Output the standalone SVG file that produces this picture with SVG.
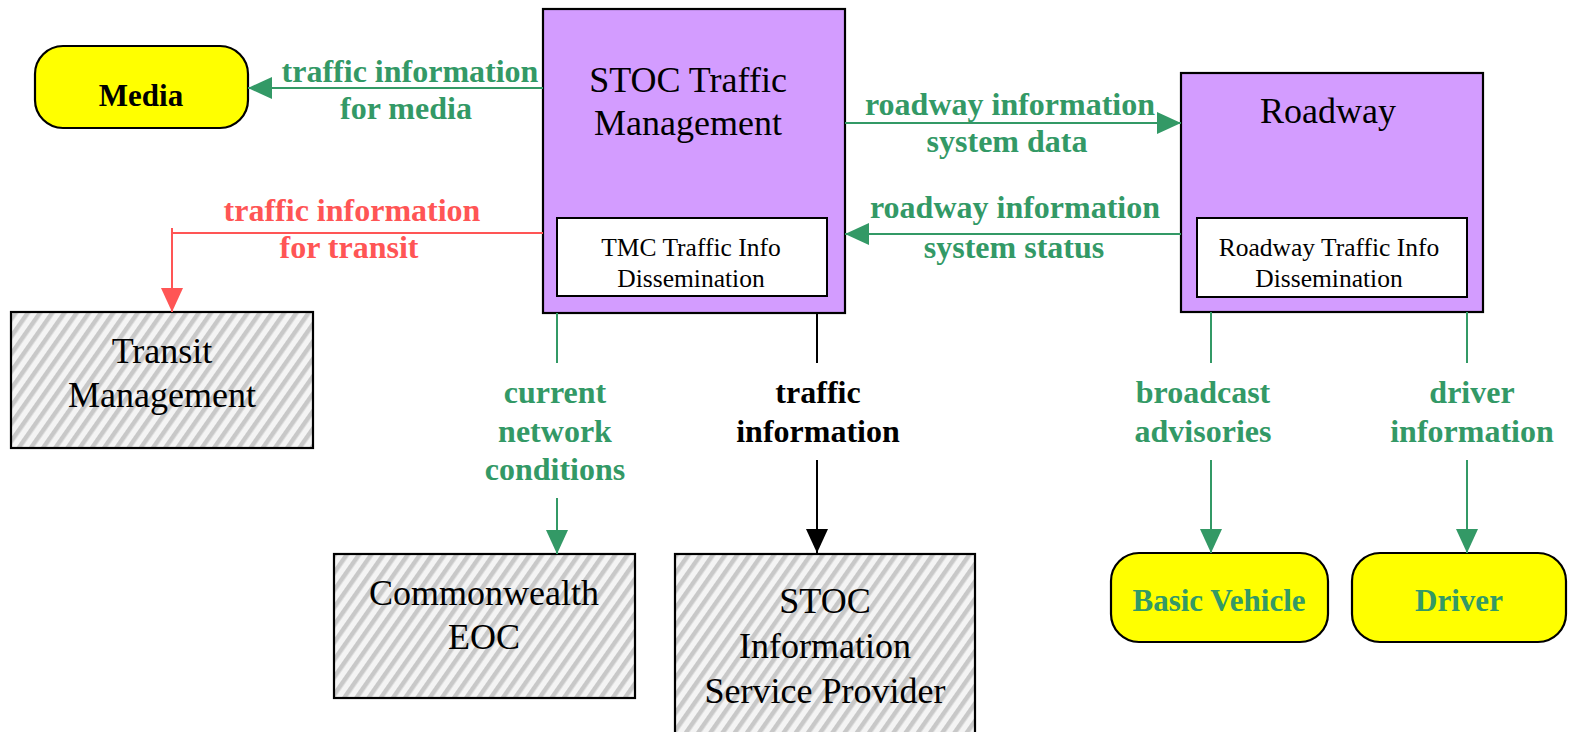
<svg xmlns="http://www.w3.org/2000/svg" width="1570" height="732" viewBox="0 0 1570 732">
<style>
text{font-family:"Liberation Serif","Times New Roman",serif;text-anchor:middle}
.title{font-size:36px;fill:#000}
.inner{font-size:25.5px;fill:#000}
.lbl{font-size:32px;font-weight:bold}
.ext{font-size:31px;font-weight:bold}
.g{fill:#339966}
.r{fill:#FF5555}
.k{fill:#000}
.box{stroke:#000;stroke-width:2.2}
.proc{fill:#D39CFF}
.sub{fill:#fff;stroke:#000;stroke-width:2}
.hatch{fill:url(#hatch)}
.term{fill:#FFFF00;stroke:#000;stroke-width:2.2}
.cg{stroke:#339966;stroke-width:2;fill:none}
.cr{stroke:#FF5555;stroke-width:2;fill:none}
.ck{stroke:#000;stroke-width:2;fill:none}
</style>
<defs>
<pattern id="hatch" patternUnits="userSpaceOnUse" width="10" height="10" patternTransform="rotate(35)">
<rect width="10" height="10" fill="#F4F4F4"/>
<rect width="4.5" height="10" fill="#C8C8C8"/>
</pattern>
<marker id="ag" viewBox="0 0 24 22" refX="24" refY="11" markerWidth="24" markerHeight="22" markerUnits="userSpaceOnUse" orient="auto"><path d="M0,0L24,11L0,22z" fill="#339966"/></marker>
<marker id="ar" viewBox="0 0 24 22" refX="24" refY="11" markerWidth="24" markerHeight="22" markerUnits="userSpaceOnUse" orient="auto"><path d="M0,0L24,11L0,22z" fill="#FF5555"/></marker>
<marker id="ak" viewBox="0 0 24 22" refX="24" refY="11" markerWidth="24" markerHeight="22" markerUnits="userSpaceOnUse" orient="auto"><path d="M0,0L24,11L0,22z" fill="#000"/></marker>
</defs>

<g id="stoc-tm">
<rect class="box proc" x="543" y="9" width="302" height="304"/>
<text class="title" x="688" y="92">STOC Traffic</text>
<text class="title" x="688" y="135">Management</text>
<rect class="sub" x="557" y="218" width="270" height="78"/>
<text class="inner" x="691" y="256">TMC Traffic Info</text>
<text class="inner" x="691" y="287">Dissemination</text>
</g>

<g id="roadway">
<rect class="box proc" x="1181" y="73" width="302" height="239"/>
<text class="title" x="1328" y="123">Roadway</text>
<rect class="sub" x="1197" y="218" width="270" height="79"/>
<text class="inner" x="1329" y="256">Roadway Traffic Info</text>
<text class="inner" x="1329" y="287">Dissemination</text>
</g>

<g id="media">
<rect class="term" x="35" y="46" width="213" height="82" rx="28" ry="28"/>
<text class="ext k" x="141" y="106">Media</text>
</g>

<g id="transit">
<rect class="box hatch" x="11" y="312" width="302" height="136"/>
<text class="title" x="162" y="363">Transit</text>
<text class="title" x="162" y="407">Management</text>
</g>

<g id="eoc">
<rect class="box hatch" x="334" y="554" width="301" height="144"/>
<text class="title" x="484" y="605">Commonwealth</text>
<text class="title" x="484" y="649">EOC</text>
</g>

<g id="isp">
<rect class="box hatch" x="675" y="554" width="300" height="190"/>
<text class="title" x="825" y="613">STOC</text>
<text class="title" x="825" y="658">Information</text>
<text class="title" x="825" y="703">Service Provider</text>
</g>

<g id="basic-vehicle">
<rect class="term" x="1111" y="553" width="217" height="89" rx="28" ry="28"/>
<text class="ext g" x="1219" y="611">Basic Vehicle</text>
</g>

<g id="driver">
<rect class="term" x="1352" y="553" width="214" height="89" rx="28" ry="28"/>
<text class="ext g" x="1459" y="611">Driver</text>
</g>

<g id="connectors">
<path class="cg" d="M543,88H248" marker-end="url(#ag)"/>
<path class="cr" d="M543,233H172V312" marker-end="url(#ar)"/>
<path class="cr" d="M172,228V233"/>
<path class="cg" d="M845,123H1181" marker-end="url(#ag)"/>
<path class="cg" d="M1181,234H845" marker-end="url(#ag)"/>
<path class="cg" d="M557,313V363"/>
<path class="cg" d="M557,498V554" marker-end="url(#ag)"/>
<path class="ck" d="M817,313V363"/>
<path class="ck" d="M817,460V553" marker-end="url(#ak)"/>
<path class="cg" d="M1211,312V363"/>
<path class="cg" d="M1211,460V553" marker-end="url(#ag)"/>
<path class="cg" d="M1467,312V363"/>
<path class="cg" d="M1467,460V553" marker-end="url(#ag)"/>

<text class="lbl g" x="410" y="82">traffic information</text>
<text class="lbl g" x="406" y="119">for media</text>
<text class="lbl r" x="352" y="221">traffic information</text>
<text class="lbl r" x="349" y="258">for transit</text>
<text class="lbl g" x="1010" y="115">roadway information</text>
<text class="lbl g" x="1007" y="152">system data</text>
<text class="lbl g" x="1015" y="218">roadway information</text>
<text class="lbl g" x="1014" y="258">system status</text>
<text class="lbl g" x="555" y="403">current</text>
<text class="lbl g" x="555" y="442">network</text>
<text class="lbl g" x="555" y="480">conditions</text>
<text class="lbl k" x="818" y="403">traffic</text>
<text class="lbl k" x="818" y="442">information</text>
<text class="lbl g" x="1203" y="403">broadcast</text>
<text class="lbl g" x="1203" y="442">advisories</text>
<text class="lbl g" x="1472" y="403">driver</text>
<text class="lbl g" x="1472" y="442">information</text>
</g>
</svg>
